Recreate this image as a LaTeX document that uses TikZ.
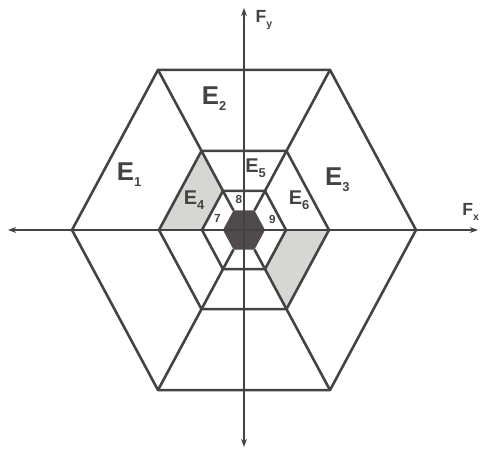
\documentclass[tikz,border=0pt]{standalone}
\usepackage{fontspec}
\setmainfont{Liberation Sans}
\usetikzlibrary{arrows.meta}
\definecolor{LineGrey}{RGB}{68,66,66}
\definecolor{ShadeGrey}{RGB}{214,214,210}
\definecolor{CoreGrey}{RGB}{80,74,74}
\newcommand{\lowsub}[1]{\raisebox{-0.45ex}{\fontsize{11}{11}\selectfont #1}}
\newcommand{\axsub}[1]{\raisebox{-0.5ex}{\fontsize{9}{9}\selectfont #1}}

\begin{document}
\begin{tikzpicture}[
        hexline/.style={LineGrey,line width=2.2pt,line join=round},
        axisarr/.style={{Stealth[length=7pt,width=5pt]}-{Stealth[length=7pt,width=5pt]},
                        LineGrey,line width=0.9pt},
        biglab/.style={font=\fontsize{22}{22}\selectfont\bfseries,text=LineGrey},
        midlab/.style={font=\fontsize{17}{17}\selectfont\bfseries,text=LineGrey},
        numlab/.style={font=\fontsize{10}{10}\selectfont\bfseries,text=LineGrey},
        axlab/.style={font=\fontsize{15}{15}\selectfont\bfseries,text=LineGrey}
      ]
        \useasboundingbox (-7.32,-6.96) rectangle (7.17,6.9);
        % Ring vertices
        \begin{scope}[yscale=1.075]
          \foreach \i in {0,...,5}{
            \coordinate (o\i) at (\i*60:5.16);
            \coordinate (m\i) at (\i*60:2.55);
            \coordinate (n\i) at (\i*60:1.26);
            \coordinate (c\i) at (\i*60:0.63);
          }
        \end{scope}
        % Shaded cells
        \fill[ShadeGrey] (m2)--(m3)--(n3)--(n2)--cycle;
        \fill[ShadeGrey] (m5)--(m0)--(n0)--(n5)--cycle;
        % Core
        \fill[CoreGrey] (c0)--(c1)--(c2)--(c3)--(c4)--(c5)--cycle;
        % Hexagons
        \draw[hexline] (o0)--(o1)--(o2)--(o3)--(o4)--(o5)--cycle;
        \draw[hexline] (m0)--(m1)--(m2)--(m3)--(m4)--(m5)--cycle;
        \draw[hexline] (n0)--(n1)--(n2)--(n3)--(n4)--(n5)--cycle;
        \foreach \i in {0,...,5} \draw[hexline] (o\i)--(c\i);
        % Axes
        \coordinate (xl) at (-7.08,0);
        \coordinate (xr) at (7.02,0);
        \coordinate (yt) at (0,6.66);
        \coordinate (yb) at (0,-6.51);
        \draw[axisarr] (xl)--(xr);
        \draw[axisarr] (yb)--(yt);
        \node[axlab] (fx) at (6.8,0.55) {F\axsub{x}};
        \node[axlab] (fy) at (0.6,6.3) {F\axsub{y}};
        % Labels
        \node[biglab] (e1) at (-3.45,1.65) {E\lowsub{1}};
        \node[biglab] (e2) at (-0.9,3.95) {E\lowsub{2}};
        \node[biglab] (e3) at (2.8,1.5) {E\lowsub{3}};
        \node[midlab] (e4) at (-1.5,0.9) {E\lowsub{4}};
        \node[midlab] (e5) at (0.35,1.85) {E\lowsub{5}};
        \node[midlab] (e6) at (1.65,0.9) {E\lowsub{6}};
        \node[numlab] (n7) at (-0.8,0.36) {7};
        \node[numlab] (n8) at (-0.15,0.93) {8};
        \node[numlab] (n9) at (0.85,0.33) {9};
      \end{tikzpicture}
\end{document}
